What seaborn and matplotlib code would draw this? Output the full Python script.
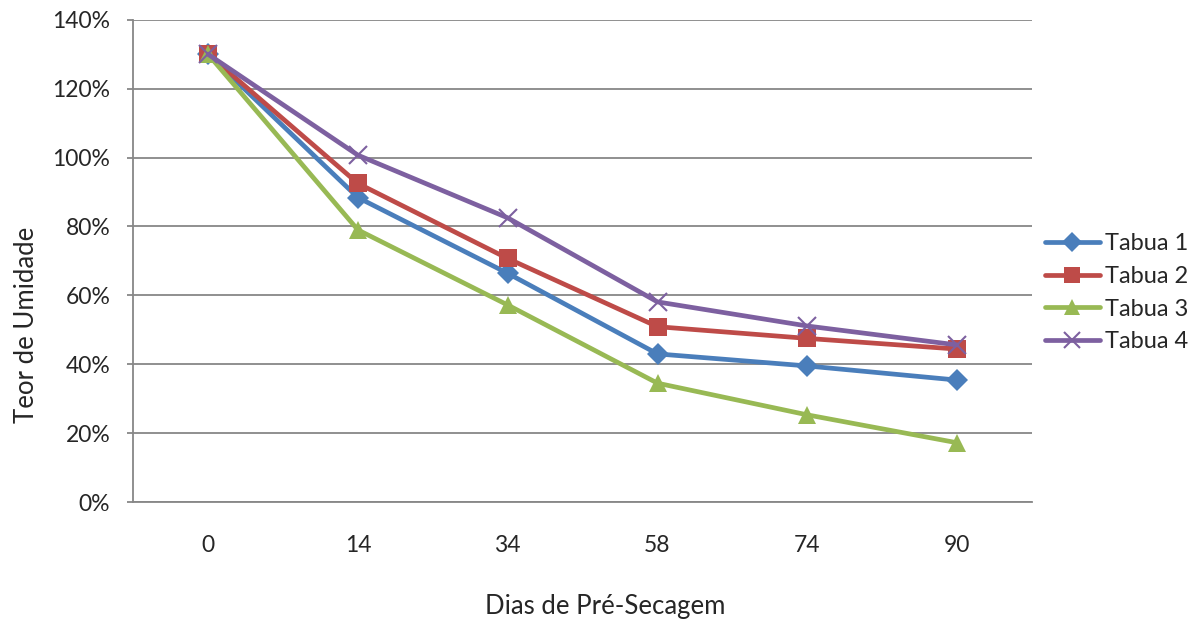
import numpy as np
import pandas as pd
from matplotlib import pyplot as plt
from matplotlib.ticker import FuncFormatter
import seaborn as sns

# dados (teor de umidade em %)
dias = ["0", "14", "34", "58", "74", "90"]
tabua_1 = [130.0, 88.4, 66.4, 43.0, 39.5, 35.4]
tabua_2 = [130.0, 92.5, 70.7, 50.9, 47.5, 44.4]
tabua_3 = [130.0, 79.0, 57.2, 34.5, 25.3, 17.2]
tabua_4 = [130.0, 100.7, 82.5, 58.1, 51.1, 45.6]
nomes = ["Tabua 1", "Tabua 2", "Tabua 3", "Tabua 4"]

df = pd.DataFrame({"Dias": dias * 4,
                   "Umidade": tabua_1 + tabua_2 + tabua_3 + tabua_4,
                   "Tabua": np.repeat(nomes, len(dias))})

cores = {"Tabua 1": "#4A7EBB", "Tabua 2": "#BE4B48",
         "Tabua 3": "#98B954", "Tabua 4": "#7D60A0"}
marcadores = {"Tabua 1": "D", "Tabua 2": "s", "Tabua 3": "^", "Tabua 4": "x"}
tamanhos = {"Tabua 1": 11, "Tabua 2": 13, "Tabua 3": 13, "Tabua 4": 13}

sns.set_style("white")
plt.rcParams["font.family"] = ["Lato", "DejaVu Sans"]

fig = plt.figure(figsize=(12, 6.19), dpi=100)
ax = fig.add_axes([0.111, 0.189, 0.749, 0.779])

# cada tabua separada (marcadores cheios e "x" nao se misturam no seaborn)
for nome in nomes:
    sub = df[df["Tabua"] == nome]
    sns.lineplot(data=sub, x="Dias", y="Umidade", color=cores[nome],
                 marker=marcadores[nome], markersize=tamanhos[nome],
                 markeredgewidth=1.5 if marcadores[nome] == "x" else 0,
                 markeredgecolor=cores[nome], linewidth=3.4, sort=False,
                 ax=ax, label=nome, legend=False)

ax.set_xlim(-0.5, len(dias) - 0.5)
ax.set_ylim(0, 140)
ax.set_yticks(range(0, 141, 20))
ax.yaxis.set_major_formatter(FuncFormatter(lambda v, p: f"{v:.0f}%"))
ax.grid(axis="y", color="#878787", linewidth=1.3)
ax.set_axisbelow(True)

for s in ["top", "right"]:
    ax.spines[s].set_visible(False)
for s in ["left", "bottom"]:
    ax.spines[s].set_color("#878787")
    ax.spines[s].set_linewidth(1.3)

ax.tick_params(axis="y", which="both", left=True, length=4.5, width=1.3,
               color="#878787", labelsize=16.5, pad=12)
ax.tick_params(axis="x", bottom=False, labelsize=16.5, pad=20)

ax.set_xlabel("Dias de Pré-Secagem", fontsize=18.5)
ax.set_ylabel("Teor de Umidade", fontsize=18.5)
ax.xaxis.set_label_coords(0.525, -0.19)
ax.yaxis.set_label_coords(-0.105, 0.367)

handles = [plt.Line2D([], [], color=cores[n], marker=marcadores[n],
                      markersize=tamanhos[n] - 1, linewidth=3.4,
                      markeredgewidth=1.5 if marcadores[n] == "x" else 0)
           for n in nomes]
fig.legend(handles, nomes, loc="center left", bbox_to_anchor=(0.853, 0.527),
           frameon=False, fontsize=17, handlelength=2.33, handletextpad=0.2,
           labelspacing=0.5)

fig.savefig("out.png", dpi=100)
